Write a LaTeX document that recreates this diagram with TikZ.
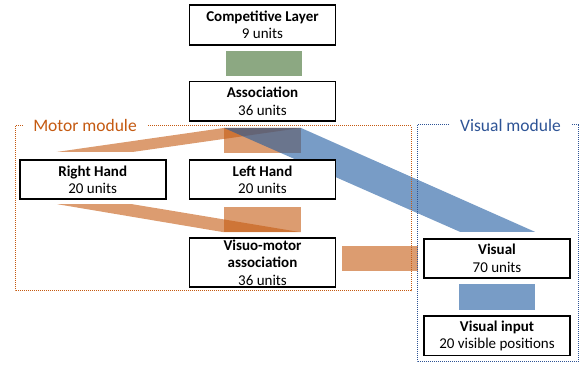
\documentclass[tikz,border=0pt]{standalone}
\usepackage{fontspec}
\setmainfont{Carlito}
\usetikzlibrary{
  positioning, % for below=of
  calc,        % for ($$)
  backgrounds  % links behind the boxes
}
\definecolor{motororange}{RGB}{197,90,17}
\definecolor{visualblue}{RGB}{30,90,160}
\definecolor{moduleblue}{RGB}{46,84,150}
\definecolor{assocgreen}{RGB}{140,168,130}
\tikzstyle{unitbox} = [rectangle, draw, line width=1.8pt, fill=white, align=center, minimum width=146pt, minimum height=39.5pt, inner ysep=1pt, font=\fontsize{15}{17.5}\selectfont]
\tikzstyle{motorlink}=[fill=motororange, fill opacity=0.6]
\tikzstyle{visuallink}=[fill=visualblue, fill opacity=0.6]
\tikzstyle{module}=[line width=1pt, dash pattern=on 1pt off 1pt]
\tikzstyle{modulelabel}=[fill=white, inner xsep=10pt, inner ysep=1pt, font=\fontsize{17.5}{19}\selectfont]

\begin{document}
\begin{tikzpicture}[x=1pt,y=-1pt]
\useasboundingbox (0,0) rectangle (582,366);
  % unit layers
\node[unitbox](complayer) at (262.5,25) {\textbf{Competitive Layer}\\9 units};
\node[unitbox](assoc) [below=35pt of complayer] {\textbf{Association}\\36 units};
\node[unitbox](lefthand) [below=37pt of assoc] {\textbf{Left Hand}\\20 units};
\node[unitbox](righthand) [left=22pt of lefthand] {\textbf{Right Hand}\\20 units};
\node[unitbox,minimum height=48.5pt,inner ysep=0pt](visuomotor) [below=37pt of lefthand] {\textbf{Visuo-motor}\\\textbf{association}\\36 units};
\node[unitbox](visual) at (497,258.5) {\textbf{Visual}\\70 units};
\node[unitbox](visualinput) [below=36pt of visual] {\textbf{Visual input}\\20 visible positions};

\begin{scope}[on background layer]
% links between layers
\fill[assocgreen] ($(complayer.south)+(-37,5)$) rectangle ($(assoc.north)+(39,-5)$);
\fill[motorlink] ($(assoc.south)+(-38.5,6)$) rectangle ($(lefthand.north)+(38.5,-6)$);
\fill[motorlink] ($(lefthand.south)+(-38.5,7)$) rectangle ($(visuomotor.north)+(38.5,-5)$);
\fill[motorlink] ($(righthand.north)+(-36,-7)$) -- ($(righthand.north)+(40,-7)$) -- ($(assoc.south)+(38.5,6)$) -- ($(assoc.south)+(-38.5,6)$) -- cycle;
\fill[motorlink] ($(righthand.south)+(-35,4)$) -- ($(righthand.south)+(40,4)$) -- ($(visuomotor.north)+(38.5,-5)$) -- ($(visuomotor.north)+(-38.5,-5)$) -- cycle;
\fill[motorlink] ($(visuomotor.east |- visual.west)+(6,-12.5)$) rectangle ($(visual.west)+(-5,12.5)$);
\fill[visuallink] ($(assoc.south)+(-38.5,6)$) -- ($(assoc.south)+(38.5,6)$) -- ($(visual.north)+(38,-6)$) -- ($(visual.north)+(-37,-6)$) -- cycle;
\fill[visuallink] ($(visual.south)+(-38,5)$) rectangle ($(visualinput.north)+(38,-5)$);
\end{scope}

% modules
\draw[module,draw=motororange] (15,126) rectangle (411,291);
\draw[module,draw=moduleblue] (417,125) rectangle (578,362);
\node[modulelabel,text=motororange](motorlabel) at (85,125) {Motor module};
\node[modulelabel,text=moduleblue](visuallabel) at (510.5,125) {Visual module};
\end{tikzpicture}
\end{document}
